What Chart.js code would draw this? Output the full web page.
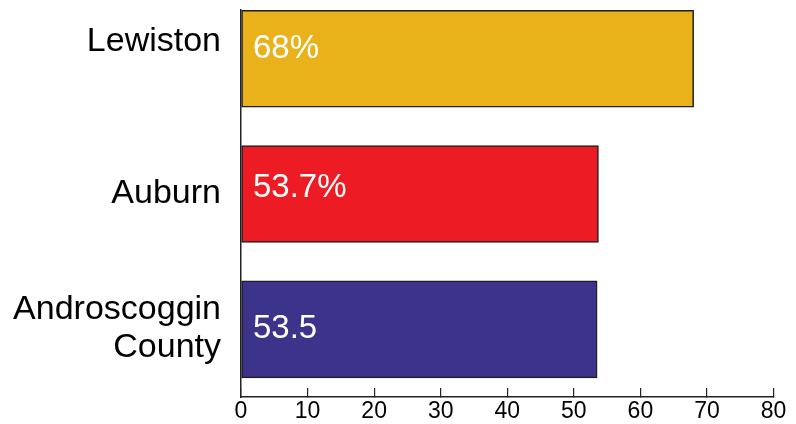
<!DOCTYPE html>
<html>
<head>
<meta charset="utf-8">
<script src="https://cdn.jsdelivr.net/npm/chart.js@4/dist/chart.umd.min.js"></script>
<style>
  html, body { margin: 0; padding: 0; background: #fff; }
  #wrap { width: 796px; height: 424px; }
</style>
</head>
<body>
<div id="wrap"><canvas id="chart" width="796" height="424"></canvas></div>
<script>
// Chart data
const categories = ['Lewiston', 'Auburn', 'Androscoggin County'];
const values = [68, 53.7, 53.5];
const valueLabels = ['68%', '53.7%', '53.5'];
const xTicks = [0, 10, 20, 30, 40, 50, 60, 70, 80];

// Styling
const barColors = ['#E9B21B', '#ED1C24', '#3C348A'];
const nameLines = [['Lewiston'], ['Auburn'], ['Androscoggin', 'County']];
const nameShift = [-8, 8.5, -10];   // baseline offset from bar centre
const valueShift = [-1, 3, 9];

// bars top to bottom -> y index counts down
const points = values.map((v, i) => ({ x: v, y: categories.length - 1 - i }));

const barLabels = {
    id: 'barLabels',
    afterDatasetsDraw(chart) {
        const ctx = chart.ctx;
        const yScale = chart.scales.y;
        const xScale = chart.scales.x;
        ctx.save();
        ctx.textBaseline = 'alphabetic';
        categories.forEach((name, i) => {
            const cy = yScale.getPixelForValue(points[i].y);

            // category name left of the axis
            ctx.font = '34px "Liberation Sans", Arial, sans-serif';
            ctx.fillStyle = '#000';
            ctx.textAlign = 'right';
            nameLines[i].forEach((line, j) => {
                ctx.fillText(line, xScale.left - 20, cy + nameShift[i] + j * 38);
            });

            // value inside the bar
            ctx.font = '33px "Liberation Sans", Arial, sans-serif';
            ctx.fillStyle = '#fff';
            ctx.textAlign = 'left';
            ctx.fillText(valueLabels[i], xScale.getPixelForValue(0) + 12, cy + valueShift[i]);
        });
        ctx.restore();
    }
};

const ctx = document.getElementById('chart').getContext('2d');
new Chart(ctx, {
    type: 'bar',
    data: {
        labels: categories,
        datasets: [{
            data: points,
            backgroundColor: barColors,
            borderColor: '#1e1e1e',
            borderWidth: 1.5,
            borderSkipped: false,
            barThickness: 97
        }]
    },
    options: {
        indexAxis: 'y',
        responsive: false,
        animation: false,
        // negative bottom padding lets the tick labels sit low under the axis
        layout: { padding: { left: 241, right: 22, top: 10, bottom: -11 } },
        plugins: {
            legend: { display: false },
            tooltip: { enabled: false }
        },
        scales: {
            x: {
                type: 'linear',
                min: 0,
                max: 80,
                afterBuildTicks: s => { s.ticks = xTicks.map(v => ({ value: v })); },
                grid: {
                    drawOnChartArea: false,
                    tickLength: -9,
                    color: '#222',
                    lineWidth: 1.2
                },
                border: { color: '#222', width: 1.5 },
                ticks: {
                    color: '#000',
                    padding: 9.7,
                    font: { family: '"Liberation Sans", Arial, sans-serif', size: 23, lineHeight: 1.2 },
                    maxRotation: 0
                }
            },
            y: {
                type: 'linear',
                offset: false,
                min: -0.5,
                max: 2.36,
                grid: { display: false, drawTicks: false, offset: false },
                border: { color: '#222', width: 1.5 },
                ticks: { display: false }
            }
        }
    },
    plugins: [barLabels]
});
</script>
</body>
</html>
